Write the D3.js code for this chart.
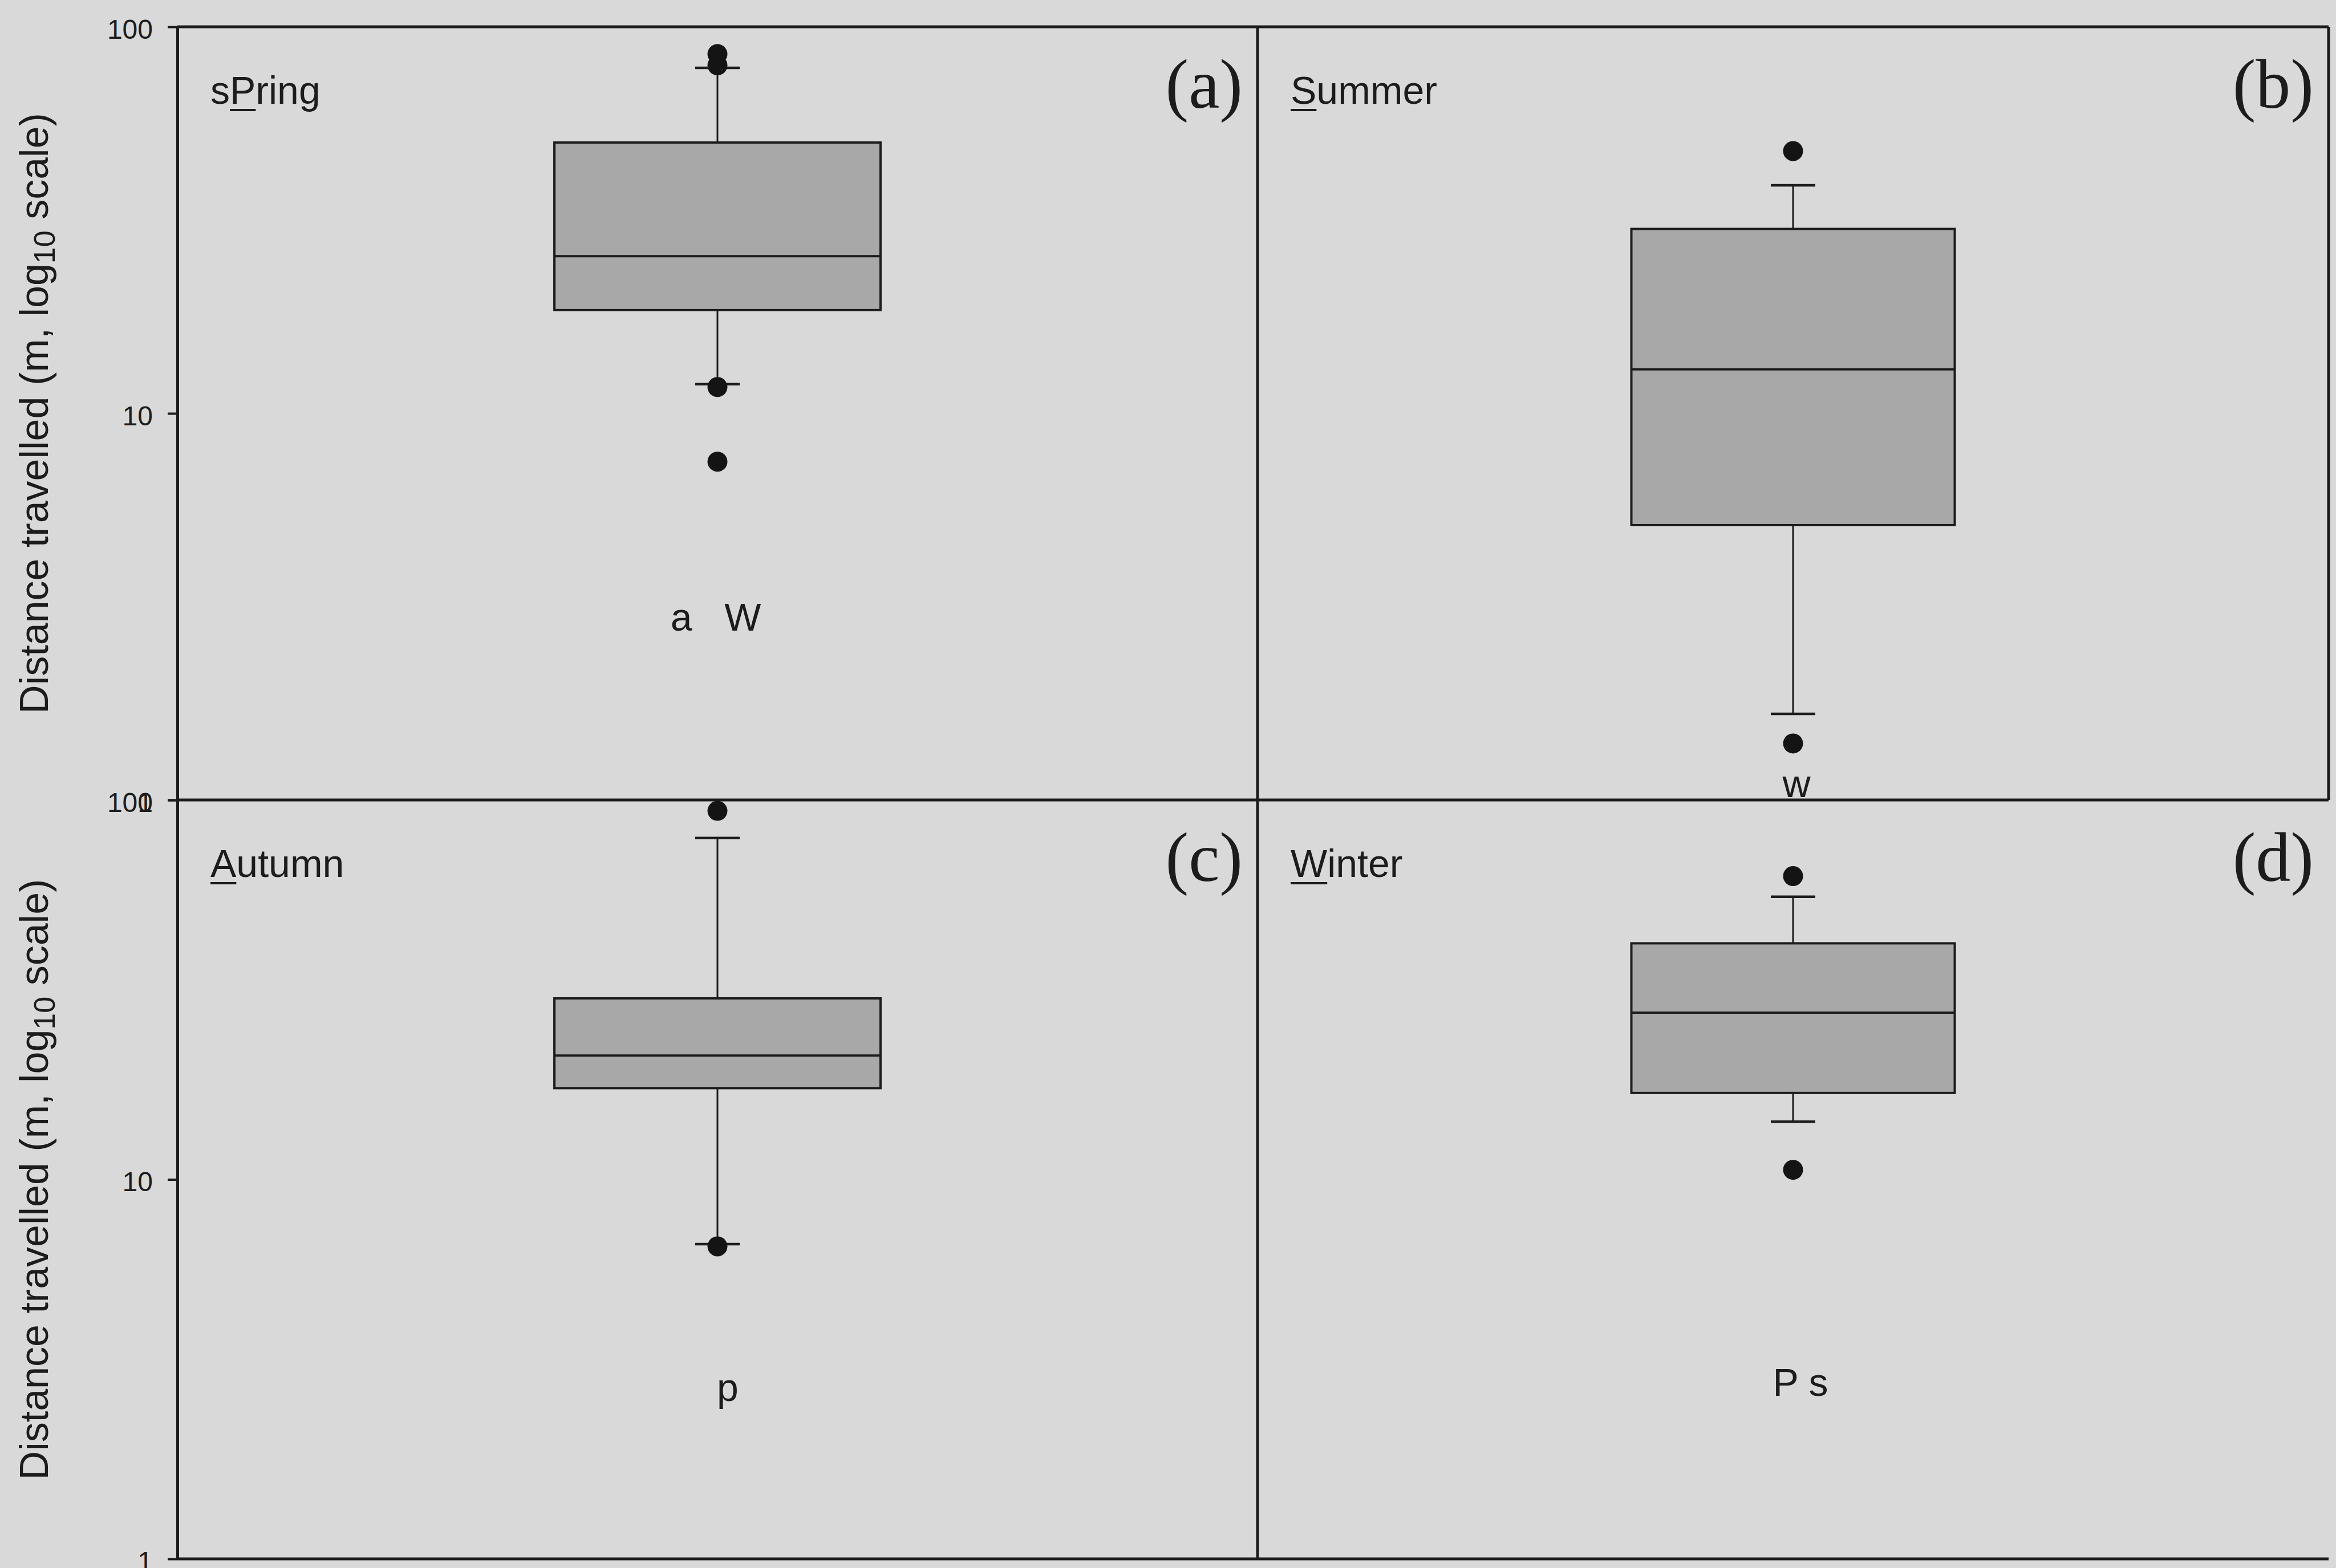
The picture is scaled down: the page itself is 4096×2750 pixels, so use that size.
<!DOCTYPE html>
<html>
<head>
<meta charset="utf-8">
<script src="https://cdn.jsdelivr.net/npm/d3@7"></script>
<style>
  html, body { margin: 0; padding: 0; background: #d9d9d9; }
  svg { display: block; }
</style>
</head>
<body>
<svg id="chart" width="4096" height="2750"></svg>
<script>
// Distance travelled per season, shown as box plots on a log10 axis
const seasons = ["Spring", "Summer", "Autumn", "Winter"];
// each title split into [before, underlined letter, after]
const seasonTitles = [["s", "P", "ring"], ["", "S", "ummer"], ["", "A", "utumn"], ["", "W", "inter"]];
const panelTags = ["(a)", "(b)", "(c)", "(d)"];
const lowerWhisker = [11.9, 1.67, 6.75, 14.2];
const lowerQuartile = [18.5, 5.14, 17.4, 16.9];
const medians = [25.5, 13.0, 21.2, 27.5];
const upperQuartile = [50.2, 30.0, 30.0, 41.9];
const upperWhisker = [78.3, 38.9, 79.4, 55.6];
const outliers = [[85, 79.5, 11.7, 7.5], [47.7, 1.40], [93.6, 6.66], [63.0, 10.6]];
const groupLetters = ["a   W", "w", "p", "P s"];
const tickValues = [100, 10, 1];

// layout
const X0 = 311, XM = 2205, XR = 4083;
const Y0 = 47, YM = 1403, YB = 2734;
const INK = "#1c1c1c";
const SANS = "'Liberation Sans', Arial, Helvetica, sans-serif";
const SERIF = "'Liberation Serif', 'Times New Roman', serif";

const panels = [
  { x0: X0, x1: XM, y0: Y0, y1: YM, axis: true },
  { x0: XM, x1: XR, y0: Y0, y1: YM, axis: false },
  { x0: X0, x1: XM, y0: YM, y1: YB, axis: true },
  { x0: XM, x1: XR, y0: YM, y1: YB, axis: false }
];
// annotation letters placed under each box
const letterPlacement = [
  { x: 1255, y: 1106 }, { x: 3150, y: 1398 }, { x: 1276, y: 2457 }, { x: 3157, y: 2448 }
];

const svg = d3.select("#chart");
svg.append("rect").attr("width", 4096).attr("height", 2750).attr("fill", "#d9d9d9");

// frame lines
const frame = svg.append("g").attr("stroke", INK).attr("stroke-width", 5).attr("fill", "none");
[[X0, Y0, XR, Y0], [X0, YM, XR, YM], [X0, YB, XR, YB], [XM, Y0, XM, YB], [XR, Y0, XR, YM]]
  .forEach(([a, b, c, d]) => frame.append("line").attr("x1", a).attr("y1", b).attr("x2", c).attr("y2", d));

seasons.forEach((season, i) => {
  const p = panels[i];
  const g = svg.append("g");
  const y = d3.scaleLog().domain([1, 100]).range([p.y1, p.y0]);
  const x = d3.scaleBand().domain([season]).range([p.x0, p.x1]).paddingInner(0).paddingOuter(1.156);
  const cx = x(season) + x.bandwidth() / 2;
  const capHalf = 39;

  if (p.axis) {
    const ax = g.append("g").attr("transform", `translate(${p.x0},0)`)
      .call(d3.axisLeft(y).tickValues(tickValues).tickFormat(d3.format("d"))
        .tickSize(17).tickSizeOuter(0).tickPadding(26));
    ax.select(".domain").attr("stroke", INK).attr("stroke-width", 5);
    ax.selectAll(".tick line").attr("stroke", INK).attr("stroke-width", 4);
    ax.selectAll(".tick text").attr("fill", INK).attr("font-family", SANS)
      .attr("font-size", 48).attr("dy", "0.42em");

    // rotated axis title with subscript
    const t = g.append("text")
      .attr("transform", `translate(84,${(p.y0 + p.y1) / 2}) rotate(-90)`)
      .attr("text-anchor", "middle").attr("font-family", SANS).attr("font-size", 70).attr("fill", INK);
    t.append("tspan").text("Distance travelled (m, log");
    t.append("tspan").attr("font-size", 52).attr("dy", 12).text("10");
    t.append("tspan").attr("dy", -12).text(" scale)");
  }

  // whiskers
  const wg = g.append("g").attr("stroke", INK).attr("stroke-width", 3);
  wg.append("line").attr("x1", cx).attr("x2", cx).attr("y1", y(upperQuartile[i])).attr("y2", y(upperWhisker[i]));
  wg.append("line").attr("x1", cx).attr("x2", cx).attr("y1", y(lowerQuartile[i])).attr("y2", y(lowerWhisker[i]));
  wg.append("line").attr("x1", cx - capHalf).attr("x2", cx + capHalf).attr("y1", y(upperWhisker[i])).attr("y2", y(upperWhisker[i])).attr("stroke-width", 4.5);
  wg.append("line").attr("x1", cx - capHalf).attr("x2", cx + capHalf).attr("y1", y(lowerWhisker[i])).attr("y2", y(lowerWhisker[i])).attr("stroke-width", 4.5);

  // box and median
  g.append("rect")
    .attr("x", x(season)).attr("width", x.bandwidth())
    .attr("y", y(upperQuartile[i])).attr("height", y(lowerQuartile[i]) - y(upperQuartile[i]))
    .attr("fill", "#a8a8a8").attr("stroke", INK).attr("stroke-width", 4);
  g.append("line").attr("x1", x(season)).attr("x2", x(season) + x.bandwidth())
    .attr("y1", y(medians[i])).attr("y2", y(medians[i]))
    .attr("stroke", INK).attr("stroke-width", 4);

  // outliers
  g.selectAll("circle.out").data(outliers[i]).join("circle")
    .attr("class", "out").attr("cx", cx).attr("cy", d => y(d)).attr("r", 17.5).attr("fill", "#141414");

  // season title with underlined letter
  const [pre, key, post] = seasonTitles[i];
  const tx = p.x0 + 58, ty = p.y0 + 135;
  const title = g.append("text").attr("x", tx).attr("y", ty)
    .attr("font-family", SANS).attr("font-size", 68).attr("fill", INK);
  title.append("tspan").text(pre + key + post);
  const node = title.node();
  const s = node.getStartPositionOfChar(pre.length);
  const e = node.getEndPositionOfChar(pre.length);
  g.append("line").attr("x1", s.x).attr("x2", e.x).attr("y1", ty + 11).attr("y2", ty + 11)
    .attr("stroke", INK).attr("stroke-width", 4);

  // panel tag
  g.append("text").attr("x", p.x1 - 26).attr("y", p.y0 + 142).attr("text-anchor", "end")
    .attr("font-family", SERIF).attr("font-size", 122).attr("fill", INK).text(panelTags[i]);

  // group letters
  g.append("text").attr("x", letterPlacement[i].x).attr("y", letterPlacement[i].y)
    .attr("text-anchor", "middle").attr("font-family", SANS).attr("font-size", 68)
    .attr("fill", INK).style("white-space", "pre").text(groupLetters[i]);
});
</script>
</body>
</html>
